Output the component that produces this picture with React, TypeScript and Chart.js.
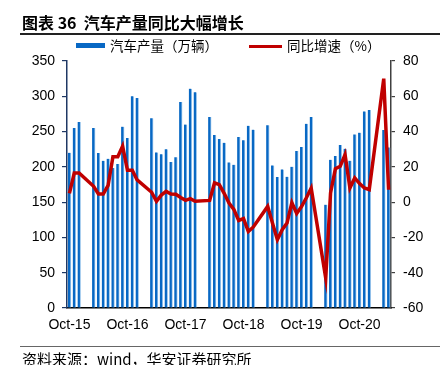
import React, { useEffect, useRef } from "react";
import { Chart, registerables } from "chart.js";

Chart.register(...registerables);

const categories: string[] = [
  "Oct-15", "Nov-15", "Dec-15",
  "Jan-16", "Feb-16", "Mar-16", "Apr-16", "May-16", "Jun-16", "Jul-16", "Aug-16", "Sep-16", "Oct-16", "Nov-16", "Dec-16",
  "Jan-17", "Feb-17", "Mar-17", "Apr-17", "May-17", "Jun-17", "Jul-17", "Aug-17", "Sep-17", "Oct-17", "Nov-17", "Dec-17",
  "Jan-18", "Feb-18", "Mar-18", "Apr-18", "May-18", "Jun-18", "Jul-18", "Aug-18", "Sep-18", "Oct-18", "Nov-18", "Dec-18",
  "Jan-19", "Feb-19", "Mar-19", "Apr-19", "May-19", "Jun-19", "Jul-19", "Aug-19", "Sep-19", "Oct-19", "Nov-19", "Dec-19",
  "Jan-20", "Feb-20", "Mar-20", "Apr-20", "May-20", "Jun-20", "Jul-20", "Aug-20", "Sep-20", "Oct-20", "Nov-20", "Dec-20",
  "Jan-21", "Feb-21", "Mar-21", "Apr-21",
];

// 汽车产量（万辆）
const production: (number | null)[] = [
  220, 255, 263.5,
  null, null, 255, 219.6, 208.7, 211.5, 198.4, 204, 257, 241, 300, 297.6,
  null, null, 269, 220.5, 218, 225, 207, 213.5, 292, 260, 310.8, 305.6,
  null, null, 270.6, 245, 239.5, 234.2, 206.3, 203, 242.3, 237.6, 258.3, 252.7,
  null, null, 258.8, 202, 185.6, 196.4, 186, 200, 222.5, 228, 261, 270.6,
  null, null, 146.4, 210, 215.4, 231, 225.7, 208.7, 246, 248.4, 278.6, 280.6,
  null, null, 252.2, 227.6,
];

// 同比增速（%）
const growth: (number | null)[] = [
  5, 16.5, 16.5,
  null, null, 9, 4.6, 4.6, 9.5, 25.7, 25.7, 31.7, 18.1, 18.1, 12.6,
  null, null, 5.6, 0.5, 4, 6.1, 4.6, 4.5, 2.6, 1.0, 2.0, 0.5,
  null, null, 1.0, 10.9, 9.9, 5.0, -0.5, -4.1, -10.4, -9.3, -16.6, -14.2,
  null, null, -2.4, -12, -21.3, -15.6, -11.8, -0.3, -6.4, -2.5, 2.5, 8.0,
  null, null, -43, 5.2, 18.9, 20.3, 27, 8.0, 13.7, 10.5, 8.0, 7.1,
  null, null, 70, 7,
];

const leftTicks = { min: 0, max: 350, step: 50 };
const rightTicks = { min: -60, max: 80, step: 20 };

const seriesNames = ["汽车产量（万辆）", "同比增速（%）"];
const titleText = "图表 36  汽车产量同比大幅增长";
const sourceText = "资料来源：wind，华安证券研究所";

const tickFont = { family: "'Liberation Sans', Arial, sans-serif", size: 14 };
const cjk = "'Noto Sans CJK SC', 'Noto Sans', sans-serif";

export default function App() {
  const canvasRef = useRef<HTMLCanvasElement | null>(null);

  useEffect(() => {
    const canvas = canvasRef.current;
    if (!canvas) return;
    const chart = new Chart(canvas, {
      type: "bar",
      data: {
        labels: categories,
        datasets: [
          {
            type: "line",
            label: seriesNames[1],
            data: growth,
            yAxisID: "y1",
            borderColor: "#C00000",
            backgroundColor: "#C00000",
            borderWidth: 3.5,
            pointRadius: 0,
            tension: 0,
            spanGaps: true,
            order: 0,
          } as any,
          {
            type: "bar",
            label: seriesNames[0],
            data: production,
            yAxisID: "y",
            backgroundColor: "#0868C4",
            borderColor: "#9CC6EC",
            borderWidth: { left: 0, right: 1, top: 0, bottom: 0 },
            borderSkipped: false,
            barThickness: 3,
            order: 1,
          } as any,
        ],
      },
      options: {
        responsive: false,
        animation: false,
        devicePixelRatio: 1,
        layout: { padding: { top: 61, bottom: 25, left: 0, right: 0 } },
        plugins: { legend: { display: false }, tooltip: { enabled: false } },
        scales: {
          x: {
            grid: { display: false, drawTicks: false },
            border: { display: true, color: "#000", width: 1.5 },
            ticks: {
              autoSkip: false,
              maxRotation: 0,
              minRotation: 0,
              padding: 9,
              color: "#000",
              font: tickFont,
              callback: (_v: any, i: number) =>
                categories[i].startsWith("Oct") ? categories[i] : null,
            },
            afterFit: (s: any) => {
              s.height = 32;
            },
          },
          y: {
            position: "left",
            min: leftTicks.min,
            max: leftTicks.max,
            ticks: { stepSize: leftTicks.step, padding: 7, color: "#000", font: tickFont },
            grid: { drawOnChartArea: false, tickLength: 5, color: "#1F3864", lineWidth: 1.2 },
            border: { color: "#1F3864", width: 1.5 },
            afterFit: (s: any) => {
              s.width = 67;
            },
          },
          y1: {
            position: "right",
            min: rightTicks.min,
            max: rightTicks.max,
            ticks: { stepSize: rightTicks.step, padding: 8, color: "#000", font: tickFont },
            grid: { drawOnChartArea: false, tickLength: 4, color: "#404040", lineWidth: 1.2 },
            border: { color: "#404040", width: 1.5 },
            afterFit: (s: any) => {
              s.width = 53;
            },
          },
        },
      } as any,
    });
    return () => chart.destroy();
  }, []);

  return (
    <div
      style={{
        position: "fixed",
        left: 0,
        top: 0,
        width: 444,
        height: 365,
        background: "#fff",
        overflow: "hidden",
      }}
    >
      <canvas
        ref={canvasRef}
        width={444}
        height={365}
        style={{ position: "absolute", left: 0, top: 0, width: 444, height: 365 }}
      />
      <div
        style={{
          position: "absolute",
          left: 22,
          top: 14,
          fontFamily: cjk,
          fontWeight: 700,
          fontSize: 16,
          lineHeight: "17px",
          whiteSpace: "pre",
          color: "#000",
        }}
      >
        {titleText}
      </div>
      <div style={{ position: "absolute", left: 20, top: 33, width: 420, height: 1.5, background: "#222" }} />
      <div style={{ position: "absolute", left: 76, top: 43, width: 29, height: 5, background: "#0868C4" }} />
      <div
        style={{
          position: "absolute",
          left: 110,
          top: 37,
          fontFamily: cjk,
          fontSize: 13.5,
          lineHeight: "16px",
          whiteSpace: "pre",
          color: "#000",
        }}
      >
        {seriesNames[0]}
      </div>
      <div style={{ position: "absolute", left: 249, top: 44.5, width: 33, height: 3.5, background: "#C00000" }} />
      <div
        style={{
          position: "absolute",
          left: 287,
          top: 37,
          fontFamily: cjk,
          fontSize: 13.5,
          lineHeight: "16px",
          whiteSpace: "pre",
          color: "#000",
        }}
      >
        {seriesNames[1]}
      </div>
      <div style={{ position: "absolute", left: 20, top: 346, width: 420, height: 1, background: "#666" }} />
      <div
        style={{
          position: "absolute",
          left: 22,
          top: 350,
          fontFamily: cjk,
          fontSize: 15,
          lineHeight: "17px",
          whiteSpace: "pre",
          color: "#000",
        }}
      >
        {sourceText}
      </div>
    </div>
  );
}
